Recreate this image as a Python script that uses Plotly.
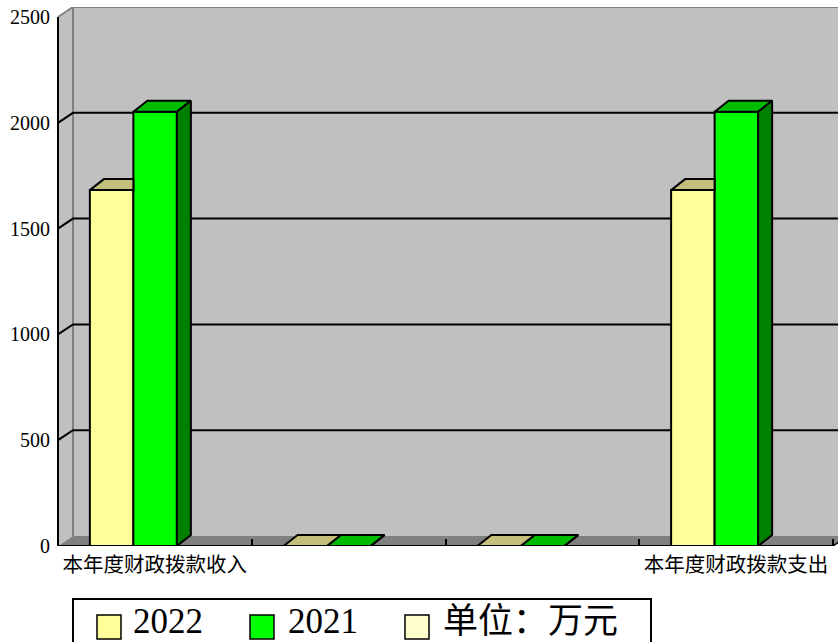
import plotly.graph_objects as go

# ---------------- data ----------------
categories = ["本年度财政拨款收入", "", "", "本年度财政拨款支出"]
series_names = ["2022", "2021", "单位：万元"]
values_2022 = [1682, 0, 0, 1682]
values_2021 = [2052, 0, 0, 2052]
y_tick_values = [0, 500, 1000, 1500, 2000, 2500]

# ---------------- geometry (pixels) ----------------
W, H = 838, 642
L, R, T, B = 51, 0, 7, 96
FRONT_LEFT_PX, FRONT_RIGHT_PX = 58, 833
PX_PER_500 = 105.8
n_cat = len(categories)
ux = (FRONT_RIGHT_PX - FRONT_LEFT_PX) / n_cat          # px per category
uy = PX_PER_500 / 500.0                                 # px per value unit
x_lo = -0.5 - (FRONT_LEFT_PX - L) / ux
x_hi = n_cat - 0.5 + (W - R - FRONT_RIGHT_PX) / ux
y_hi = (H - T - B) / uy
ymax_axis = y_tick_values[-1]

# depth offsets
DXW, DYW = 15 / ux, 10 / uy    # walls
DXB, DYB = 14 / ux, 11 / uy    # bars
BAR_W = 43.5 / ux
OFFS = [-65 / ux, -65 / ux + BAR_W]

FRONT_COLORS = ["#FFFF99", "#00FF00"]
TOP_COLORS = ["#C4C07C", "#00BC00"]
SIDE_COLOR = "#008000"
LEGEND_COLORS = ["#FFFF99", "#00FF00", "#FFFFCC"]

FONT_NUM = "Liberation Serif, Noto Sans CJK SC"
FONT_CJK = "Noto Sans CJK SC"

series_values = [values_2022, values_2021]
xs = list(range(n_cat))
x0f, x1f = -0.5, n_cat - 0.5

fig = go.Figure()

# ---------------- walls, floor, grid (shapes below traces) ----------------
def path(pts):
    return "M " + " L ".join(f"{a},{b}" for a, b in pts) + " Z"

def opath(pts):
    return "M " + " L ".join(f"{a},{b}" for a, b in pts)

shapes = []
# back wall
shapes.append(dict(type="path", xref="x", yref="y", layer="below",
                   path=path([(x0f + DXW, DYW), (x1f + DXW + 1, DYW),
                              (x1f + DXW + 1, ymax_axis + DYW), (x0f + DXW, ymax_axis + DYW)]),
                   fillcolor="#C0C0C0", line=dict(width=0)))
# left wall
shapes.append(dict(type="path", xref="x", yref="y", layer="below",
                   path=path([(x0f, 0), (x0f, ymax_axis), (x0f + DXW, ymax_axis + DYW), (x0f + DXW, DYW)]),
                   fillcolor="#C0C0C0", line=dict(width=0)))
# floor
shapes.append(dict(type="path", xref="x", yref="y", layer="below",
                   path=path([(x0f, 0), (x1f, 0), (x1f + DXW, DYW), (x0f + DXW, DYW)]),
                   fillcolor="#808080", line=dict(width=0)))
# back wall edges
shapes.append(dict(type="path", xref="x", yref="y", layer="below",
                   path=opath([(x0f + DXW, DYW), (x0f + DXW, ymax_axis + DYW), (x1f + DXW + 1, ymax_axis + DYW)]),
                   line=dict(color="#808080", width=2)))
shapes.append(dict(type="path", xref="x", yref="y", layer="below",
                   path=opath([(x0f, ymax_axis), (x0f + DXW, ymax_axis + DYW)]),
                   line=dict(color="#808080", width=2)))
# gridlines
for v in y_tick_values[1:-1]:
    shapes.append(dict(type="path", xref="x", yref="y", layer="below",
                       path=opath([(x0f, v), (x0f + DXW, v + DYW), (x1f + DXW + 1, v + DYW)]),
                       line=dict(color="black", width=2)))
# front axes
shapes.append(dict(type="line", xref="x", yref="y", layer="below",
                   x0=x0f, x1=x0f, y0=0, y1=ymax_axis, line=dict(color="black", width=2)))
shapes.append(dict(type="path", xref="x", yref="y", layer="below",
                   path=opath([(x1f + DXW, DYW), (x1f, 0)]),
                   line=dict(color="black", width=1.5)))

# ---------------- bars ----------------
for s, vals in enumerate(series_values):
    fig.add_trace(go.Bar(
        x=xs, y=vals, base=0, width=BAR_W, offset=OFFS[s],
        marker=dict(color=FRONT_COLORS[s], line=dict(color="black", width=2)),
        showlegend=False, name=series_names[s]))

for s, vals in enumerate(series_values):
    tx, ty = [], []
    for i, v in enumerate(vals):
        a = i + OFFS[s]
        b = a + BAR_W
        nxt = series_values[s + 1][i] if s + 1 < len(series_values) else None
        if nxt is not None and nxt > v:
            pts = [(a, v), (b, v), (b, v + DYB), (a + DXB, v + DYB), (a, v)]
        else:
            pts = [(a, v), (b, v), (b + DXB, v + DYB), (a + DXB, v + DYB), (a, v)]
        for p in pts:
            tx.append(p[0]); ty.append(p[1])
        tx.append(None); ty.append(None)
    fig.add_trace(go.Scatter(x=tx, y=ty, mode="lines", fill="toself",
                             fillcolor=TOP_COLORS[s], line=dict(color="black", width=2),
                             hoverinfo="skip", showlegend=False))

# side faces of the front-most series
last = series_values[-1]
sx, sy = [], []
for i, v in enumerate(last):
    b = i + OFFS[-1] + BAR_W
    pts = [(b, 0), (b + DXB, DYB), (b + DXB, v + DYB), (b, v), (b, 0)]
    for p in pts:
        sx.append(p[0]); sy.append(p[1])
    sx.append(None); sy.append(None)
fig.add_trace(go.Scatter(x=sx, y=sy, mode="lines", fill="toself",
                         fillcolor=SIDE_COLOR, line=dict(color="black", width=2),
                         hoverinfo="skip", showlegend=False))

# x axis line on top
shapes.append(dict(type="line", xref="x", yref="y", layer="above",
                   x0=x0f, x1=x1f, y0=0, y1=0, line=dict(color="black", width=2)))

# ---------------- manual legend ----------------
pw = W - L - R
ph = H - T - B
def px_x(p): return (p - L) / pw
def px_y(p): return (H - B - p) / ph

shapes.append(dict(type="rect", xref="paper", yref="paper", layer="above",
                   x0=px_x(73), x1=px_x(651), y0=px_y(660), y1=px_y(599),
                   line=dict(color="black", width=2), fillcolor="white"))
annotations = []
legend_sq = [97, 250, 405]
legend_tx = [132, 287, 442]
for k, name in enumerate(series_names):
    shapes.append(dict(type="rect", xref="paper", yref="paper", layer="above",
                       x0=px_x(legend_sq[k]), x1=px_x(legend_sq[k] + 24),
                       y0=px_y(639), y1=px_y(615),
                       line=dict(color="black", width=1.5), fillcolor=LEGEND_COLORS[k]))
    annotations.append(dict(xref="paper", yref="paper", x=px_x(legend_tx[k]), y=px_y(621),
                            xanchor="left", yanchor="middle", showarrow=False, text=name,
                            borderpad=0,
                            font=dict(family=FONT_NUM, size=35, color="black")))

fig.update_layout(
    width=W, height=H,
    margin=dict(l=L, r=R, t=T, b=B, pad=0),
    paper_bgcolor="white", plot_bgcolor="white",
    barmode="overlay",
    showlegend=False,
    shapes=shapes,
    annotations=annotations,
    xaxis=dict(range=[x_lo, x_hi], tickvals=xs, ticktext=categories,
               showgrid=False, zeroline=False, showline=False, ticks="",
               ticklabelstandoff=4,
               tickfont=dict(family=FONT_CJK, size=20.5, color="black"),
               minor=dict(tickmode="linear", tick0=0.5, dtick=1, ticks="inside",
                          ticklen=7, tickwidth=2, tickcolor="black", showgrid=False),
               fixedrange=True),
    yaxis=dict(range=[0, y_hi], tickvals=y_tick_values,
               showgrid=False, zeroline=False, showline=False, ticks="",
               tickfont=dict(family=FONT_NUM, size=20, color="black"),
               fixedrange=True),
)

fig.write_html("out.html", config={"displayModeBar": False},
               post_script="document.body.style.margin='0';document.body.style.overflow='hidden';")
